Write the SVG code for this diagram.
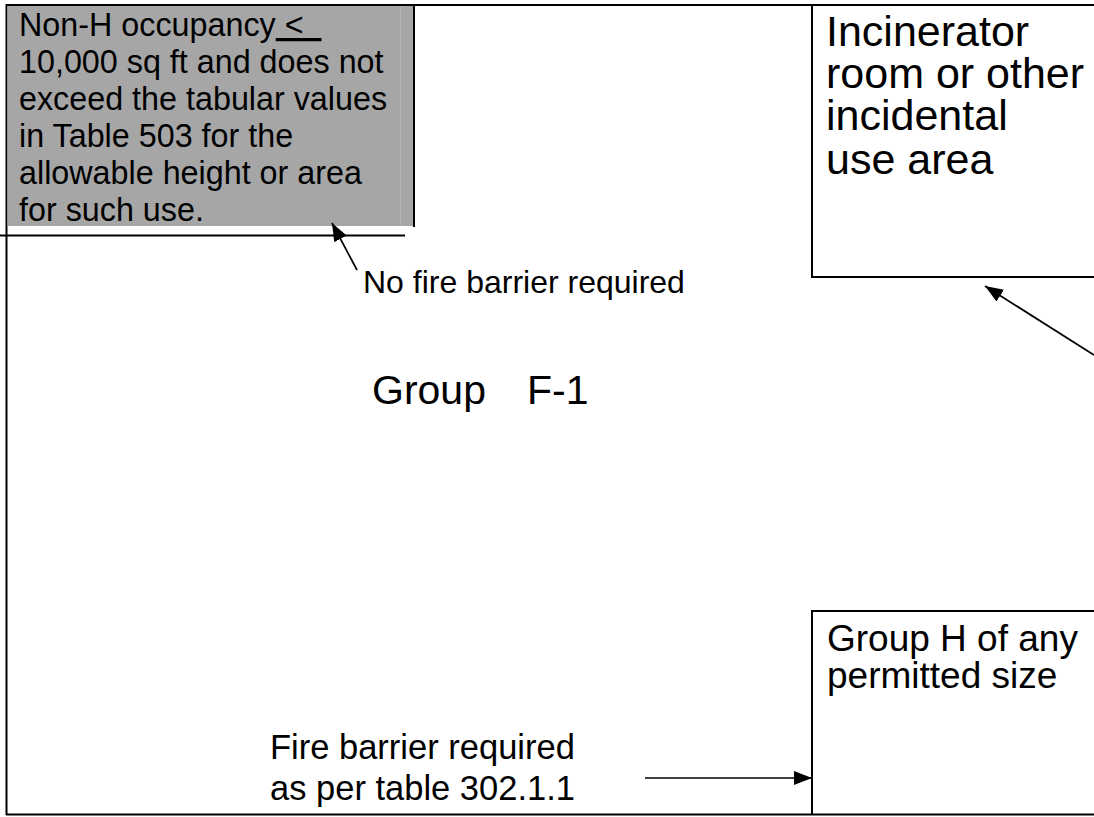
<svg xmlns="http://www.w3.org/2000/svg" width="1094" height="817" viewBox="0 0 1094 817">
<style>
.t{font-family:"Liberation Sans",Arial,sans-serif;fill:#000}
.ln{stroke:#000;stroke-width:2;fill:none}
.cn{stroke:#000;stroke-width:1.7;fill:none}
</style>
<defs>
<marker id="ah" viewBox="0 0 18 14" refX="18" refY="7" markerWidth="18" markerHeight="14" markerUnits="userSpaceOnUse" orient="auto"><path d="M0,0 L18,7 L0,14 Z" fill="#000"/></marker>
</defs>
<rect width="1094" height="817" fill="#fff"/>
<g id="frame">
<line class="ln" x1="6" y1="5" x2="1094" y2="5"/>
<line class="ln" x1="6.5" y1="4" x2="6.5" y2="815"/>
<line class="ln" x1="6" y1="814.5" x2="1094" y2="814.5"/>
</g>
<g id="non-h">
<rect x="7.5" y="6" width="406" height="220" fill="#a6a6a6"/>
<line x1="400.5" y1="6" x2="400.5" y2="226" stroke="#b4b4b4" stroke-width="1"/>
<line class="ln" x1="414" y1="5" x2="414" y2="227"/>
<text class="t" font-size="32.3" x="19">
<tspan x="19" y="36">Non-H occupancy<tspan text-decoration="underline">&#160;&lt;&#160;&#160;</tspan></tspan>
<tspan x="19" y="73">10,000 sq ft and does not</tspan>
<tspan x="19" y="110">exceed the tabular values</tspan>
<tspan x="19" y="147">in Table 503 for the</tspan>
<tspan x="19" y="184">allowable height or area</tspan>
<tspan x="19" y="221">for such use.</tspan>
</text>
</g>
<g id="incinerator">
<polyline class="ln" points="812,5 812,277 1094,277"/>
<text class="t" font-size="43">
<tspan x="826" y="46">Incinerator</tspan>
<tspan x="826" y="88">room or other</tspan>
<tspan x="826" y="130">incidental</tspan>
<tspan x="826" y="174">use area</tspan>
</text>
</g>
<g id="group-h">
<polyline class="ln" points="812,814 812,611 1094,611"/>
<text class="t" font-size="37">
<tspan x="827" y="651">Group H of any</tspan>
<tspan x="827" y="688">permitted size</tspan>
</text>
</g>
<g id="group-f1">
<text class="t" font-size="41" y="404"><tspan x="372">Group</tspan><tspan x="527">F-1</tspan></text>
</g>
<g id="labels">
<text class="t" font-size="32" x="363" y="293">No fire barrier required</text>
<text class="t" font-size="34.5">
<tspan x="270" y="759">Fire barrier required</tspan>
<tspan x="270" y="800">as per table 302.1.1</tspan>
</text>
</g>
<g id="connectors">
<line class="ln" x1="0" y1="235.5" x2="405" y2="235.5"/>
<line class="cn" x1="357" y1="270" x2="332" y2="223" marker-end="url(#ah)"/>
<line class="cn" x1="1094" y1="355" x2="985" y2="286" marker-end="url(#ah)"/>
<line class="cn" x1="645" y1="778" x2="812" y2="778" marker-end="url(#ah)"/>
</g>
</svg>
